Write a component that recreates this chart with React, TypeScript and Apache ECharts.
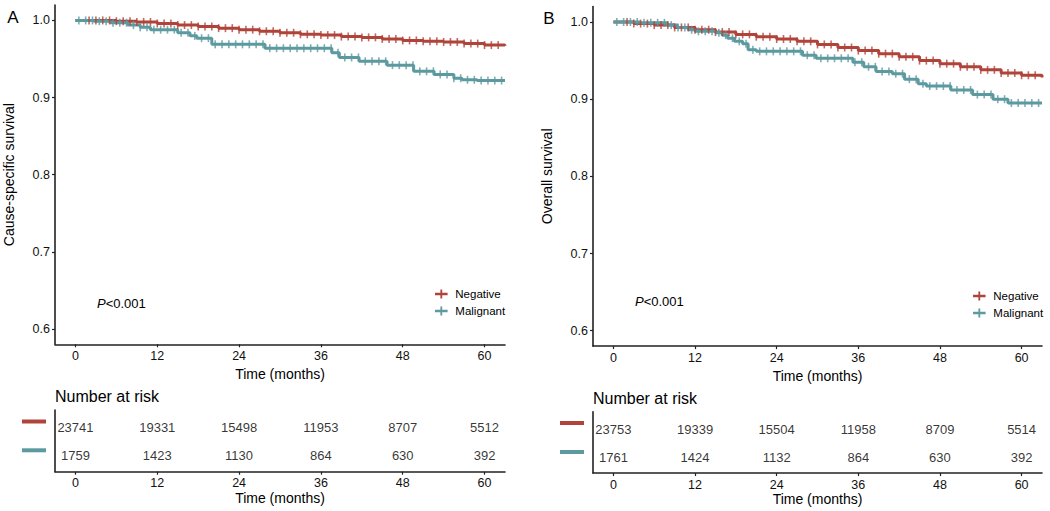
import React, { useEffect, useRef } from "react";
import * as echarts from "echarts";

const FONT = '"Liberation Sans", Arial, Helvetica, sans-serif';
const RED = "#B0443B";
const TEAL = "#5C9AA0";
const TXT = "#111";

const X_TICKS = [0, 12, 24, 36, 48, 60];
const Y_TICKS = [0.6, 0.7, 0.8, 0.9, 1.0];

// Panel A – cause-specific survival (time in months, survival)
const NEG_A: [number, number][] = [
  [0, 1.0], [3, 1.0], [6, 0.999], [9, 0.998], [12, 0.996], [15, 0.994], [18, 0.992],
  [21, 0.99], [24, 0.988], [27, 0.986], [30, 0.984], [33, 0.982], [36, 0.981],
  [39, 0.979], [42, 0.978], [45, 0.976], [48, 0.974], [51, 0.973], [54, 0.972],
  [57, 0.97], [60, 0.968], [63, 0.967],
];
const MAL_A: [number, number][] = [
  [0, 1.0], [2.7, 0.999], [5.1, 0.997], [7.7, 0.994], [9.5, 0.991], [11, 0.988],
  [15, 0.984], [16.8, 0.98], [17.8, 0.977], [20, 0.969], [27.8, 0.964], [37.6, 0.958],
  [38.7, 0.952], [41.6, 0.947], [45.7, 0.942], [49.6, 0.934], [52.6, 0.93],
  [55.5, 0.925], [56.7, 0.923], [58.9, 0.922], [63, 0.922],
];

// Panel B – overall survival
const NEG_B: [number, number][] = [
  [0, 1.0], [3, 0.998], [6, 0.996], [9, 0.993], [12, 0.99], [15, 0.987], [18, 0.984],
  [21, 0.981], [24, 0.978], [27, 0.975], [30, 0.971], [33, 0.967], [36, 0.963],
  [39, 0.959], [42, 0.955], [45, 0.95], [48, 0.946], [51, 0.942], [54, 0.938],
  [57, 0.934], [60, 0.931], [63, 0.928],
];
const MAL_B: [number, number][] = [
  [0, 1.0], [3.9, 0.999], [7.9, 0.996], [9.4, 0.993], [11, 0.99], [12, 0.988],
  [15, 0.986], [16, 0.983], [16.8, 0.979], [17.8, 0.975], [19, 0.972], [19.8, 0.964],
  [21, 0.962], [27.8, 0.957], [29.8, 0.953], [35.2, 0.948], [36.8, 0.942],
  [38.6, 0.936], [41, 0.933], [42.8, 0.926], [44.8, 0.92], [46, 0.917], [49.6, 0.912],
  [52.8, 0.906], [55.8, 0.9], [58, 0.895], [63, 0.895],
];

// censoring times (months)
const CENSOR_NEG = [
  2, 3, 4, 5, 6, 7, 8, 9, 10, 11, 12, 13, 14, 15, 16, 17, 18, 19, 20, 21, 22, 23, 24, 25,
  26, 27, 28, 29, 30, 31, 32, 33, 34, 35, 36, 37, 38, 39, 40, 41, 42, 43, 44, 45, 46, 47,
  48, 49, 50, 51, 52, 53, 54, 55, 56, 57, 58, 59, 60, 61, 62,
];
const CENSOR_MAL = [
  0.5, 1.5, 2.5, 3.5, 4.5, 5.5, 6.5, 7.5, 8.5, 9.5, 10.5, 11.5, 12.5, 13.5, 14.5, 15.5,
  16.5, 17.5, 18.5, 19.5, 20.5, 21.5, 22.5, 23.5, 24.5, 25.5, 26.5, 27.5, 28.5, 29.5,
  30.5, 31.5, 32.5, 33.5, 34.5, 35.5, 36.5, 37.5, 38.5, 39.5, 40.5, 41.5, 42.5, 43.5,
  44.5, 45.5, 46.5, 47.5, 48.5, 49.5, 50.5, 51.5, 52.5, 53.5, 54.5, 55.5, 56.5, 57.5,
  58.5, 59.5, 60.5, 61.5, 62.5,
];

// number at risk
const RISK_TIMES = [0, 12, 24, 36, 48, 60];
const RISK_NEG_A = [23741, 19331, 15498, 11953, 8707, 5512];
const RISK_MAL_A = [1759, 1423, 1130, 864, 630, 392];
const RISK_NEG_B = [23753, 19339, 15504, 11958, 8709, 5514];
const RISK_MAL_B = [1761, 1424, 1132, 864, 630, 392];

const SERIES_NAMES = ["Negative", "Malignant"];

function stepAt(curve: [number, number][], t: number) {
  let v = curve[0][1];
  for (const [x, y] of curve) if (x <= t) v = y;
  return v;
}

const axisLineStyle = { color: "#222", width: 1.6 };

function xAxis(gridIndex: number, gap: number) {
  return {
    type: "value",
    gridIndex,
    min: -3,
    max: 63,
    axisLine: { show: true, onZero: false, lineStyle: axisLineStyle },
    axisTick: { show: true, customValues: X_TICKS, length: 3, lineStyle: { color: "#222", width: 1.2 } },
    axisLabel: { customValues: X_TICKS, margin: 5, fontSize: 12.5, color: TXT, fontFamily: FONT },
    splitLine: { show: false },
    name: "Time (months)",
    nameLocation: "middle",
    nameGap: gap,
    nameTextStyle: { fontSize: 14, color: "#000", fontFamily: FONT },
  };
}

function yAxisMain(gridIndex: number, name: string) {
  return {
    type: "value",
    gridIndex,
    min: 0.58,
    max: 1.02,
    axisLine: { show: true, onZero: false, lineStyle: axisLineStyle },
    axisTick: { show: true, customValues: Y_TICKS, length: 3, lineStyle: { color: "#222", width: 1.2 } },
    axisLabel: {
      customValues: Y_TICKS,
      margin: 5,
      fontSize: 12.5,
      color: TXT,
      fontFamily: FONT,
      formatter: (v: number) => v.toFixed(1),
    },
    splitLine: { show: false },
    name,
    nameLocation: "middle",
    nameGap: 39,
    nameTextStyle: { fontSize: 14, color: "#000", fontFamily: FONT },
  };
}

function yAxisTable(gridIndex: number) {
  return {
    type: "value",
    gridIndex,
    min: 0.445,
    max: 2.625,
    axisLine: { show: true, onZero: false, lineStyle: axisLineStyle },
    axisTick: { show: false },
    axisLabel: { show: false },
    splitLine: { show: false },
  };
}

function curveSeries(name: string, data: [number, number][], color: string, axis: number) {
  return {
    type: "line",
    name,
    xAxisIndex: axis,
    yAxisIndex: axis,
    step: "end",
    data,
    showSymbol: false,
    color,
    itemStyle: { color },
    lineStyle: { color, width: 3 },
    z: 3,
  };
}

function censorSeries(name: string, curve: [number, number][], times: number[], color: string, axis: number) {
  return {
    type: "scatter",
    name: name + " censored",
    xAxisIndex: axis,
    yAxisIndex: axis,
    symbol: "rect",
    symbolSize: [1.6, 8],
    itemStyle: { color },
    data: times.map((t) => [t, stepAt(curve, t)]),
    z: 4,
    silent: true,
  };
}

function riskSeries(values: number[], row: number, axis: number) {
  return {
    type: "scatter",
    xAxisIndex: axis,
    yAxisIndex: axis,
    symbolSize: 0,
    data: RISK_TIMES.map((t, i) => [t, row, values[i]]),
    label: {
      show: true,
      position: "inside",
      formatter: (p: any) => String(p.value[2]),
      fontSize: 13,
      color: "#000",
      fontFamily: FONT,
    },
    silent: true,
  };
}

const LEGEND_ICON = "path://M0,3.6L14,3.6L14,6.4L8,6.4L8,10L6,10L6,6.4L0,6.4Z M6,0L8,0L8,3.6L6,3.6Z";

function legend(left: number, top: number) {
  return {
    data: SERIES_NAMES,
    left,
    top,
    orient: "vertical",
    icon: LEGEND_ICON,
    itemWidth: 14,
    itemHeight: 9,
    itemGap: 5,
    selectedMode: false,
    textStyle: { fontSize: 11.5, color: "#000", fontFamily: FONT, padding: [0, 0, 0, 2] },
  };
}

function text(x: number, y: number, t: string, size: number, extra: any = {}) {
  return {
    type: "text",
    x,
    y,
    style: {
      text: t,
      fontSize: size,
      fontFamily: FONT,
      fill: "#000",
      align: "left",
      verticalAlign: "middle",
      ...extra,
    },
  };
}

export default function App() {
  const ref = useRef<HTMLDivElement>(null);
  useEffect(() => {
    if (!ref.current) return;
    const chart = echarts.init(ref.current, undefined, { renderer: "svg" });
    const option: any = {
      animation: false,
      backgroundColor: "#fff",
      grid: [
        { left: 55, top: 5, width: 450, height: 339.3 },
        { left: 55, top: 410, width: 450, height: 61.7 },
        { left: 593, top: 6.6, width: 449, height: 339.5 },
        { left: 593, top: 411.7, width: 449, height: 61.3 },
      ],
      xAxis: [xAxis(0, 16), xAxis(1, 18), xAxis(2, 16), xAxis(3, 18)],
      yAxis: [
        yAxisMain(0, "Cause-specific survival"),
        yAxisTable(1),
        yAxisMain(2, "Overall survival"),
        yAxisTable(3),
      ],
      legend: [legend(430, 283), legend(968, 285)],
      series: [
        curveSeries(SERIES_NAMES[0], NEG_A, RED, 0),
        curveSeries(SERIES_NAMES[1], MAL_A, TEAL, 0),
        censorSeries(SERIES_NAMES[0], NEG_A, CENSOR_NEG, RED, 0),
        censorSeries(SERIES_NAMES[1], MAL_A, CENSOR_MAL, TEAL, 0),
        curveSeries(SERIES_NAMES[0], NEG_B, RED, 2),
        curveSeries(SERIES_NAMES[1], MAL_B, TEAL, 2),
        censorSeries(SERIES_NAMES[0], NEG_B, CENSOR_NEG, RED, 2),
        censorSeries(SERIES_NAMES[1], MAL_B, CENSOR_MAL, TEAL, 2),
        riskSeries(RISK_NEG_A, 2, 1),
        riskSeries(RISK_MAL_A, 1, 1),
        riskSeries(RISK_NEG_B, 2, 3),
        riskSeries(RISK_MAL_B, 1, 3),
      ],
      graphic: [
        text(13, 17, "A", 17, { align: "center" }),
        text(549, 18, "B", 17, { align: "center" }),
        text(97, 303, "{i|P}<0.001", 13, { rich: { i: { fontStyle: "italic", fontSize: 13, fontFamily: FONT } } }),
        text(635, 301, "{i|P}<0.001", 13, { rich: { i: { fontStyle: "italic", fontSize: 13, fontFamily: FONT } } }),
        text(55, 396, "Number at risk", 16),
        text(593, 398, "Number at risk", 16),
        { type: "rect", shape: { x: 22, y: 419.5, width: 24, height: 4 }, style: { fill: RED } },
        { type: "rect", shape: { x: 22, y: 448.3, width: 24, height: 4 }, style: { fill: TEAL } },
        { type: "rect", shape: { x: 560, y: 421, width: 24, height: 4 }, style: { fill: RED } },
        { type: "rect", shape: { x: 560, y: 450, width: 24, height: 4 }, style: { fill: TEAL } },
      ],
    };
    chart.setOption(option);
    return () => chart.dispose();
  }, []);
  return (
    <div
      ref={ref}
      style={{ position: "absolute", left: 0, top: 0, width: 1050, height: 511, background: "#fff" }}
    />
  );
}
